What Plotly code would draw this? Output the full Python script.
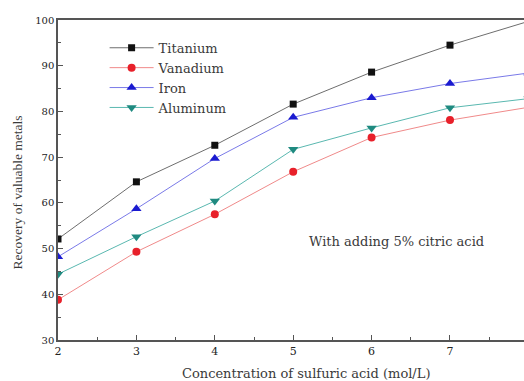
import plotly.graph_objects as go

# Sulfuric acid concentration (mol/L)
concentration = [2, 3, 4, 5, 6, 7, 8]

# Recovery of valuable metals (%)
titanium = [52.1, 64.6, 72.6, 81.6, 88.6, 94.5, 99.7]
vanadium = [38.8, 49.3, 57.5, 66.8, 74.3, 78.1, 80.9]
iron = [48.2, 58.7, 69.7, 78.7, 83.0, 86.1, 88.4]
aluminum = [44.4, 52.6, 60.4, 71.7, 76.4, 80.8, 82.8]

series = [
    ("Titanium", titanium, "#6e6e6e", "#111111", "square", 7),
    ("Vanadium", vanadium, "#f08a8a", "#e8202a", "circle", 8),
    ("Iron", iron, "#7a7ae8", "#1a1ad0", "triangle-up", 9),
    ("Aluminum", aluminum, "#5ab8b0", "#1f8a80", "triangle-down", 9),
]

fig = go.Figure()
for name, vals, lc, mc, sym, sz in series:
    fig.add_trace(go.Scatter(
        x=concentration, y=vals, name=name, mode="lines+markers",
        line=dict(color=lc, width=1),
        marker=dict(symbol=sym, size=sz, color=mc),
    ))

wide_serif = "DejaVu Serif, serif"
serif = "Liberation Serif, Times New Roman, serif"
text_color = "#3a3a3a"

fig.update_layout(
    width=524, height=381,
    margin=dict(l=58, r=0, t=20, b=41),
    paper_bgcolor="white", plot_bgcolor="white",
    font=dict(family=wide_serif, size=13, color=text_color),
    showlegend=True,
    legend=dict(
        x=0.1, y=0.96, xanchor="left", yanchor="top",
        bgcolor="rgba(0,0,0,0)", font=dict(family=wide_serif, size=13, color=text_color),
        itemwidth=44, tracegroupgap=0,
    ),
    xaxis=dict(
        range=[2, 7.944], showgrid=False, zeroline=False,
        showline=True, linecolor="#555555", linewidth=1.5, mirror=True,
        ticks="inside", ticklen=5, tickcolor="#555555", tickwidth=1,
        tickmode="array", tickvals=[2, 3, 4, 5, 6, 7],
        tickfont=dict(family=wide_serif, size=11, color="#222222"),
        minor=dict(ticks="inside", ticklen=3, tickcolor="#555555", dtick=0.5, tick0=2),
    ),
    yaxis=dict(
        range=[30, 100], showgrid=False, zeroline=False,
        showline=True, linecolor="#555555", linewidth=1.5,
        ticks="inside", ticklen=5, tickcolor="#555555", tickwidth=1,
        dtick=10, tick0=30,
        tickfont=dict(family=wide_serif, size=10, color="#222222"),
        minor=dict(ticks="inside", ticklen=3, tickcolor="#555555", dtick=5, tick0=30),
    ),
    annotations=[
        dict(text="Concentration of sulfuric acid (mol/L)", xref="paper", yref="paper",
             x=(306 - 58) / 466, y=-0.104, xanchor="center", yanchor="middle",
             showarrow=False, font=dict(family=wide_serif, size=13, color=text_color)),
        dict(text="Recovery of valuable metals", xref="paper", yref="paper",
             x=-0.087, y=(340 - 192) / 320, xanchor="center", yanchor="middle",
             textangle=-90, showarrow=False,
             font=dict(family=serif, size=13.5, color=text_color)),
        dict(text="With adding 5% citric acid", xref="paper", yref="paper",
             x=(396 - 58) / 466, y=(340 - 241) / 320, xanchor="center", yanchor="middle",
             showarrow=False, font=dict(family=wide_serif, size=13, color=text_color)),
    ],
)

fig.write_html("out.html")
